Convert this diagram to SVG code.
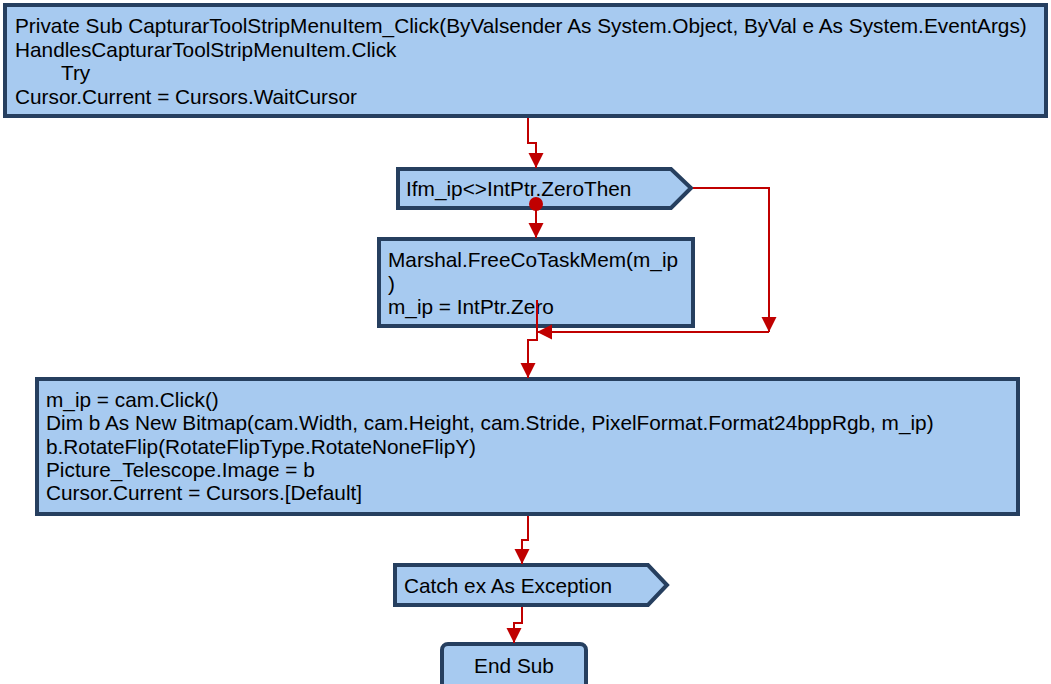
<svg xmlns="http://www.w3.org/2000/svg" width="1051" height="684" viewBox="0 0 1051 684">
<style>
.box{fill:#a7caf0;stroke:#263f5f;stroke-width:4;}
.t{font-family:"Liberation Sans",Arial,sans-serif;font-size:20.8px;fill:#000;}
.c{fill:none;stroke:#c00000;stroke-width:2;}
</style>
<defs>
<marker id="ah" markerUnits="userSpaceOnUse" markerWidth="16" markerHeight="16" refX="15" refY="7.5" orient="auto">
<path d="M0,0 L15,7.5 L0,15 z" fill="#c00000"/>
</marker>
</defs>
<rect width="1051" height="684" fill="#fff"/>
<g id="n_start">
<rect class="box" x="5" y="5" width="1041" height="111"/>
<text class="t" x="15" y="33">Private Sub CapturarToolStripMenuItem_Click(ByValsender As System.Object, ByVal e As System.EventArgs)</text>
<text class="t" x="15" y="57">HandlesCapturarToolStripMenuItem.Click</text>
<text class="t" x="61" y="80">Try</text>
<text class="t" x="15" y="104">Cursor.Current = Cursors.WaitCursor</text>
</g>
<g id="n_if">
<polygon class="box" points="398,169 671,169 691,188 671,208 398,208"/>
<text class="t" x="406" y="196">Ifm_ip&lt;&gt;IntPtr.ZeroThen</text>
</g>
<g id="n_marshal">
<rect class="box" x="379" y="239" width="314" height="87"/>
<text class="t" x="388" y="267">Marshal.FreeCoTaskMem(m_ip</text>
<text class="t" x="388" y="291">)</text>
<text class="t" x="388" y="314">m_ip = IntPtr.Zero</text>
</g>
<g id="n_click">
<rect class="box" x="37" y="379" width="981" height="135"/>
<text class="t" x="46" y="407">m_ip = cam.Click()</text>
<text class="t" x="46" y="430">Dim b As New Bitmap(cam.Width, cam.Height, cam.Stride, PixelFormat.Format24bppRgb, m_ip)</text>
<text class="t" x="46" y="454">b.RotateFlip(RotateFlipType.RotateNoneFlipY)</text>
<text class="t" x="46" y="477">Picture_Telescope.Image = b</text>
<text class="t" x="46" y="500">Cursor.Current = Cursors.[Default]</text>
</g>
<g id="n_catch">
<polygon class="box" points="395,565 648,565 667,585 648,605 395,605"/>
<text class="t" x="404" y="593">Catch ex As Exception</text>
</g>
<g id="n_end">
<rect class="box" x="442" y="644" width="144" height="52" rx="6"/>
<text class="t" x="514" y="673" text-anchor="middle">End Sub</text>
</g>
<g id="connectors">
<path class="c" d="M528,118 V143 H536 V168" marker-end="url(#ah)"/>
<path class="c" d="M536,204 V238" marker-end="url(#ah)"/>
<circle cx="536" cy="204" r="7" fill="#c00000"/>
<path class="c" d="M693,188 H769 V332" marker-end="url(#ah)"/>
<path class="c" d="M769,332 H537" marker-end="url(#ah)"/>
<path class="c" d="M537,300 V340 H528 V378" marker-end="url(#ah)"/>
<path class="c" d="M528,516 V540 H522 V564" marker-end="url(#ah)"/>
<path class="c" d="M522,607 V623 H514 V643" marker-end="url(#ah)"/>
</g>
</svg>
